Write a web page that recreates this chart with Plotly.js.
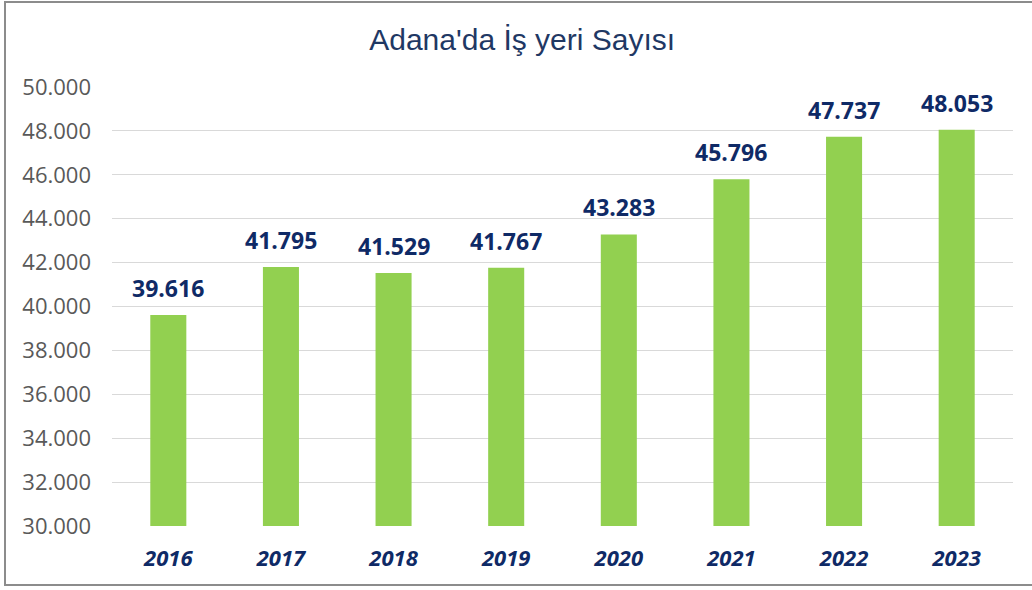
<!DOCTYPE html>
<html>
<head>
<meta charset="utf-8">
<script src="https://cdn.plot.ly/plotly-3.0.1.min.js"></script>
<style>
html,body{margin:0;padding:0;background:#fff;}
#chart{position:absolute;left:0;top:0;width:1032px;height:590px;}
#frame{position:absolute;left:4px;top:1px;width:1040px;height:585px;border:2px solid #8c8c8c;pointer-events:none;box-sizing:border-box;}
</style>
</head>
<body>
<div id="chart"></div>
<div id="frame"></div>
<script>
const years = ['2016','2017','2018','2019','2020','2021','2022','2023'];
const values = [39616, 41795, 41529, 41767, 43283, 45796, 47737, 48053];
const chartTitle = "Adana'da İş yeri Sayısı";
const yTicks = [30000,32000,34000,36000,38000,40000,42000,44000,46000,48000,50000];

const navy = '#0f2a66';

const trace = {
  type: 'bar',
  x: years,
  y: values,
  marker: {color: '#92D050'},
  hoverinfo: 'x+y'
};

const annotations = years.map((yr, i) => ({
  x: i,
  y: values[i],
  xref: 'x',
  yref: 'y',
  text: values[i].toLocaleString('de-DE'),
  showarrow: false,
  yanchor: 'bottom',
  yshift: 9,
  font: {family: 'Open Sans', size: 23, color: navy, weight: 'bold'}
}));

const layout = {
  width: 1032,
  height: 590,
  paper_bgcolor: '#ffffff',
  plot_bgcolor: '#ffffff',
  separators: ',.',
  margin: {l: 112, r: 19, t: 87, b: 64},
  title: {
    text: chartTitle,
    x: 0.506,
    xanchor: 'center',
    y: 0.933,
    yanchor: 'middle',
    font: {family: 'Liberation Sans, Arial', size: 30, color: '#1F3864'}
  },
  bargap: 0.68,
  showlegend: false,
  xaxis: {
    type: 'category',
    range: [-0.5, 7.5],
    showgrid: false,
    showline: false,
    zeroline: false,
    ticks: '',
    ticklabelstandoff: 17,
    tickfont: {family: 'Open Sans', size: 22, color: navy, weight: 'bold', style: 'italic'}
  },
  yaxis: {
    range: [30000, 50000],
    tickvals: yTicks,
    tickformat: ',.0f',
    showgrid: true,
    gridcolor: '#d9d9d9',
    gridwidth: 1,
    zeroline: false,
    showline: false,
    ticks: '',
    ticklabelstandoff: 20,
    tickfont: {family: 'Open Sans', size: 22, color: '#595959'}
  },
  annotations: annotations
};

Plotly.newPlot('chart', [trace], layout, {displayModeBar: false, staticPlot: true});
</script>
</body>
</html>
